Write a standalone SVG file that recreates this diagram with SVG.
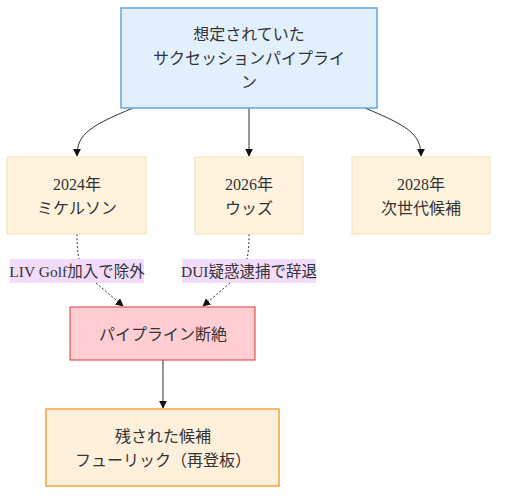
<svg xmlns="http://www.w3.org/2000/svg" width="506" height="502" viewBox="0 0 506 502">
<style>
text{font-family:"Liberation Serif","Noto Sans CJK JP",serif;font-size:16px;fill:#333;text-anchor:middle;dominant-baseline:central}
.lt{font-size:15.5px}
.year{fill:#fff3de;stroke:#f1e0b8;stroke-width:1}
.e{fill:none;stroke:#333;stroke-width:1}
.d{fill:none;stroke:#333;stroke-width:1;stroke-dasharray:2 2}
.lb{fill:#f2dcfb}
</style>
<defs>
<marker id="ah" viewBox="0 0 10 10" refX="9" refY="5" markerWidth="8" markerHeight="8" orient="auto" markerUnits="userSpaceOnUse">
<path d="M0,0 L10,5 L0,10 z" fill="#111"/>
</marker>
</defs>
<g id="connectors">
<path class="e" d="M133,108 C90,126 77,134 77,156" marker-end="url(#ah)"/>
<path class="e" d="M249,108 L249,156" marker-end="url(#ah)"/>
<path class="e" d="M365,108 C408,126 421,134 421,156" marker-end="url(#ah)"/>
<path class="d" d="M77,234 C77,248 78,254 79,259"/>
<path class="d" d="M96,283 L123,306" marker-end="url(#ah)"/>
<path class="d" d="M249,234 C249,248 248,254 247,259"/>
<path class="d" d="M230,283 L203,306" marker-end="url(#ah)"/>
<path class="e" d="M163,360 L163,408" marker-end="url(#ah)"/>
</g>
<g id="edge-label-1">
<rect class="lb" x="10" y="259" width="134" height="24"/>
<text class="lt" x="77" y="271">LIV Golf加入で除外</text>
</g>
<g id="edge-label-2">
<rect class="lb" x="182" y="259" width="134" height="24"/>
<text class="lt" x="249" y="271">DUI疑惑逮捕で辞退</text>
</g>
<g id="pipeline">
<rect x="121" y="8" width="256" height="100" fill="#e2f0fd" stroke="#64a3e6" stroke-width="1.5"/>
<text x="249" y="34">想定されていた</text>
<text x="249" y="58">サクセッションパイプライ</text>
<text x="249" y="82">ン</text>
</g>
<g id="y2024">
<rect class="year" x="7" y="157" width="139" height="77"/>
<text x="77" y="184">2024年</text>
<text x="77" y="208">ミケルソン</text>
</g>
<g id="y2026">
<rect class="year" x="195" y="157" width="108" height="77"/>
<text x="249" y="184">2026年</text>
<text x="249" y="208">ウッズ</text>
</g>
<g id="y2028">
<rect class="year" x="352" y="157" width="138" height="77"/>
<text x="421" y="184">2028年</text>
<text x="421" y="208">次世代候補</text>
</g>
<g id="broken">
<rect x="70" y="307" width="185" height="53" fill="#ffcdd2" stroke="#d93a3a" stroke-width="1"/>
<text x="163" y="334">パイプライン断絶</text>
</g>
<g id="remaining">
<rect x="46" y="409" width="233" height="77" fill="#fff0dc" stroke="#f7a23e" stroke-width="1.5"/>
<text x="163" y="436">残された候補</text>
<text x="163" y="460">フューリック（再登板）</text>
</g>
</svg>
